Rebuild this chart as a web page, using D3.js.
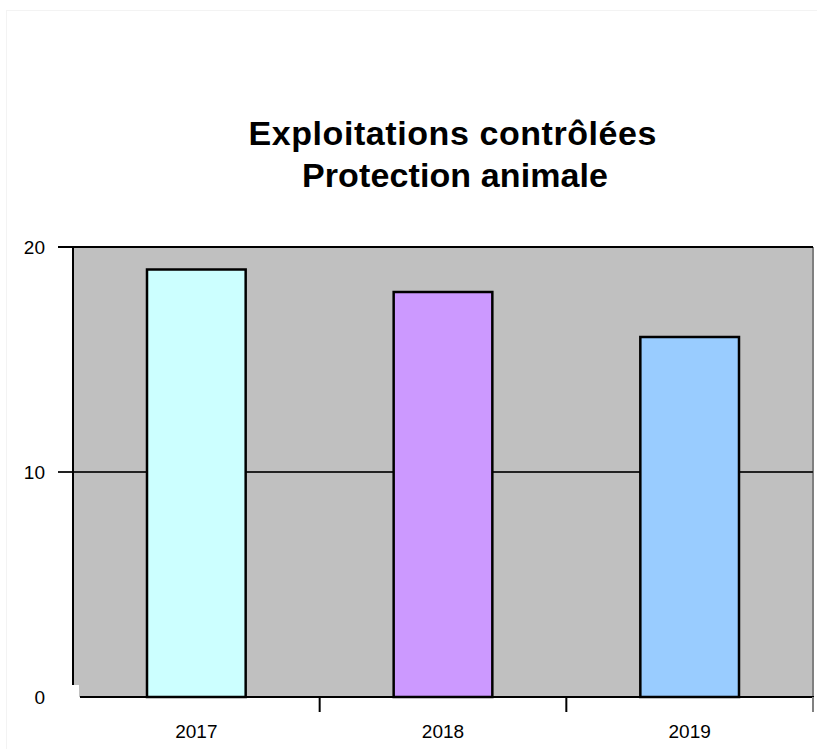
<!DOCTYPE html>
<html>
<head>
<meta charset="utf-8">
<script src="https://cdn.jsdelivr.net/npm/d3@7/dist/d3.min.js"></script>
<style>
  html, body { margin: 0; padding: 0; background: #ffffff; }
  svg { display: block; }
  text { font-family: "Liberation Sans", Arial, sans-serif; }
</style>
</head>
<body>
<svg id="chart" width="817" height="749"></svg>
<script>
const categories = ["2017", "2018", "2019"];
const values = [19, 18, 16];
const barColors = ["#CCFFFF", "#CC99FF", "#99CCFF"];
const yTicks = [0, 10, 20];
const titleLines = ["Exploitations contrôlées", "Protection animale"];

const svg = d3.select("#chart");
const W = 817, H = 749;
const plot = { left: 73, right: 813, top: 247, bottom: 697 };

// faint outer frame
svg.append("rect").attr("x", 6.5).attr("y", 10.5).attr("width", W).attr("height", H)
  .attr("fill", "none").attr("stroke", "#f3f3f3").attr("stroke-width", 1);

const x = d3.scaleBand().domain(categories).range([plot.left, plot.right]).padding(0);
const y = d3.scaleLinear().domain([0, 20]).range([plot.bottom, plot.top]);

// plot background
svg.append("rect")
  .attr("x", plot.left).attr("y", plot.top)
  .attr("width", plot.right - plot.left).attr("height", plot.bottom - plot.top)
  .attr("fill", "#C0C0C0");

// right border
svg.append("line")
  .attr("x1", plot.right).attr("x2", plot.right)
  .attr("y1", plot.top).attr("y2", plot.bottom)
  .attr("stroke", "#808080").attr("stroke-width", 2);

// gridlines + y ticks (left extension)
const grid = svg.append("g");
yTicks.filter(t => t > 0).forEach(t => {
  grid.append("line")
    .attr("x1", 58).attr("x2", plot.right)
    .attr("y1", y(t)).attr("y2", y(t))
    .attr("stroke", t === 20 ? "#000000" : "#222222").attr("stroke-width", 2);
});

// bars
const bw = x.bandwidth() * 0.4;
svg.append("g").selectAll("rect").data(values).join("rect")
  .attr("x", (d, i) => x(categories[i]) + (x.bandwidth() - bw) / 2)
  .attr("y", d => y(d))
  .attr("width", bw)
  .attr("height", d => y(0) - y(d))
  .attr("fill", (d, i) => barColors[i])
  .attr("stroke", "#000000")
  .attr("stroke-width", 2.5);

// left axis line
svg.append("line")
  .attr("x1", plot.left).attr("x2", plot.left)
  .attr("y1", plot.top - 1).attr("y2", 685)
  .attr("stroke", "#000000").attr("stroke-width", 2);

// white notch at bottom-left
svg.append("rect").attr("x", plot.left - 1).attr("y", 685).attr("width", 7).attr("height", 16).attr("fill", "#ffffff");

// bottom axis line
svg.append("line")
  .attr("x1", 80).attr("x2", plot.right + 1)
  .attr("y1", y(0)).attr("y2", y(0))
  .attr("stroke", "#000000").attr("stroke-width", 2);

// bottom ticks at band boundaries
const boundaries = categories.slice(1).map(c => x(c)).concat([plot.right]);
svg.append("g").selectAll("line").data(boundaries).join("line")
  .attr("x1", d => d).attr("x2", d => d)
  .attr("y1", y(0)).attr("y2", 712)
  .attr("stroke", (d, i) => i === boundaries.length - 1 ? "#808080" : "#000000")
  .attr("stroke-width", 2);

// y labels
svg.append("g").selectAll("text").data(yTicks).join("text")
  .attr("x", 45).attr("y", d => y(d))
  .attr("dy", "0.35em")
  .attr("text-anchor", "end")
  .attr("font-size", 19)
  .attr("fill", "#000")
  .text(d => d);

// x labels
svg.append("g").selectAll("text").data(categories).join("text")
  .attr("x", d => x(d) + x.bandwidth() / 2)
  .attr("y", 738)
  .attr("text-anchor", "middle")
  .attr("font-size", 19)
  .attr("fill", "#000")
  .text(d => d);

// title
const titleY = [145, 187];
const titleW = [408, 306];
const titleX = [452.5, 455];
svg.append("g").selectAll("text").data(titleLines).join("text")
  .attr("x", (d, i) => titleX[i])
  .attr("y", (d, i) => titleY[i])
  .attr("text-anchor", "middle")
  .attr("font-size", 34)
  .attr("font-weight", "bold")
  .attr("fill", "#000")
  .attr("textLength", (d, i) => titleW[i])
  .attr("lengthAdjust", "spacing")
  .text(d => d);
</script>
</body>
</html>
